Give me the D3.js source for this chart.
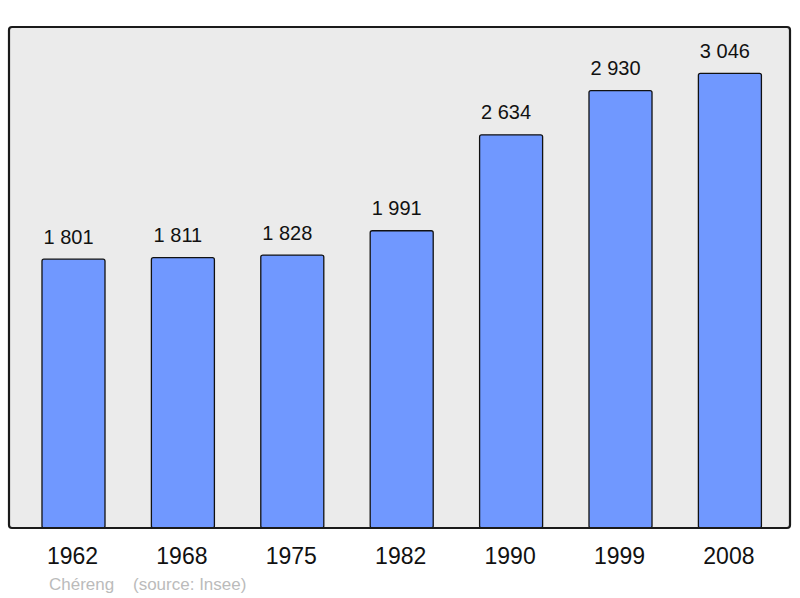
<!DOCTYPE html>
<html><head><meta charset="utf-8">
<script src="https://cdn.jsdelivr.net/npm/d3@7"></script>
<style>body{margin:0;background:#fff}svg{display:block}</style>
</head><body>
<script>
const years = ["1962","1968","1975","1982","1990","1999","2008"];
const population = [1801,1811,1828,1991,2634,2930,3046];
const commune = "Chéreng";
const source = "(source: Insee)";

const W = 800, H = 598;
const panel = {x0: 9, x1: 790, y0: 27, y1: 528};
const svg = d3.select("body").append("svg").attr("width", W).attr("height", H)
  .style("font-family", "'Liberation Sans', Arial, sans-serif");

const x = d3.scaleBand().domain(years).range([-4.4, 807.8]).padding(0.424);
const y = d3.scaleLinear().domain([0, 3356]).range([panel.y1, panel.y0]);
const fmt = v => d3.format(",")(v).replace(/,/g, " ");

svg.append("rect").attr("x", panel.x0).attr("y", panel.y0)
  .attr("width", panel.x1 - panel.x0).attr("height", panel.y1 - panel.y0)
  .attr("rx", 3).attr("fill", "#ebebeb");

svg.selectAll("rect.bar").data(years).join("rect").attr("class","bar")
  .attr("x", d => x(d)).attr("width", x.bandwidth())
  .attr("y", (d,i) => y(population[i])).attr("height", (d,i) => y(0) - y(population[i]))
  .attr("rx", 2)
  .attr("fill", "#7098ff").attr("stroke", "#111").attr("stroke-width", 1.3);

svg.append("rect").attr("x", panel.x0).attr("y", panel.y0)
  .attr("width", panel.x1 - panel.x0).attr("height", panel.y1 - panel.y0)
  .attr("rx", 3).attr("fill", "none").attr("stroke", "#1a1a1a").attr("stroke-width", 2.2);

svg.selectAll("text.val").data(years).join("text").attr("class","val")
  .attr("x", d => x(d) + x.bandwidth()/2 - 5)
  .attr("y", (d,i) => y(population[i]) - 15.5)
  .attr("text-anchor", "middle").attr("font-size", 20).attr("fill", "#111")
  .text((d,i) => fmt(population[i]));

svg.selectAll("text.yr").data(years).join("text").attr("class","yr")
  .attr("x", d => x(d) + x.bandwidth()/2 - 1).attr("y", 564)
  .attr("text-anchor", "middle").attr("font-size", 23).attr("fill", "#111")
  .text(d => d);

svg.append("text").attr("x", 49).attr("y", 590).attr("font-size", 17).attr("fill", "#bbbbbb").text(commune);
svg.append("text").attr("x", 133).attr("y", 590).attr("font-size", 17).attr("fill", "#bbbbbb").text(source);
</script>
</body></html>
